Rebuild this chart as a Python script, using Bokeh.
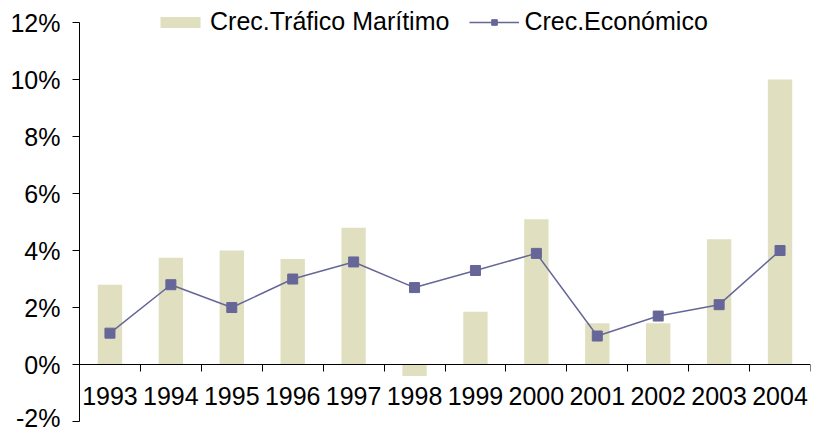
from bokeh.plotting import figure
from bokeh.models import (Range1d, LinearAxis, FixedTicker, PrintfTickFormatter,
                          Legend, LegendItem)
from bokeh.embed import file_html
from bokeh.resources import INLINE

years = ["1993", "1994", "1995", "1996", "1997", "1998",
         "1999", "2000", "2001", "2002", "2003", "2004"]
trafico = [2.8, 3.75, 4.0, 3.7, 4.8, -0.4, 1.85, 5.1, 1.45, 1.45, 4.4, 10.0]
economico = [1.1, 2.8, 2.0, 3.0, 3.6, 2.7, 3.3, 3.9, 1.0, 1.7, 2.1, 4.0]
y_ticks = [-2, 0, 2, 4, 6, 8, 10, 12]

FONT = "Liberation Sans"
FS = "25px"
BAR_COLOR = "#E0E0C0"
LINE_COLOR = "#666699"

n = len(years)
xc = [i + 0.5 for i in range(n)]

p = figure(width=813, height=431, output_backend="svg", toolbar_location=None,
           x_range=Range1d(0, n), y_range=Range1d(-2, 12.6),
           x_axis_type=None,
           min_border_left=79, min_border_right=3, min_border_top=5, min_border_bottom=10)
p.outline_line_color = None
p.ygrid.visible = False
p.background_fill_color = "white"
p.border_fill_color = "white"

bars = p.vbar(x=xc, top=trafico, bottom=0, width=0.4, fill_color=BAR_COLOR,
              line_color=None)
line = p.line(x=xc, y=economico, line_color=LINE_COLOR, line_width=1.5)
pts = p.scatter(x=xc, y=economico, marker="square", size=10,
                fill_color=LINE_COLOR, line_color=LINE_COLOR)

# y axis
yax = p.yaxis[0]
yax.ticker = FixedTicker(ticks=y_ticks)
yax.bounds = (-2, 12)
yax.formatter = PrintfTickFormatter(format="%d%%")
yax.major_tick_in = 0
yax.major_tick_out = 7
yax.minor_tick_line_color = None
yax.axis_line_color = "black"
yax.major_tick_line_color = "black"
yax.major_label_text_font = FONT
yax.major_label_text_font_size = FS
yax.major_label_text_color = "black"
yax.major_label_standoff = 12

# x axis (tick marks at category boundaries) at 0%
xb = LinearAxis(ticker=FixedTicker(ticks=list(range(n + 1))), fixed_location=0,
                major_label_overrides={i: "" for i in range(n + 1)},
                major_tick_in=0, major_tick_out=7, minor_tick_line_color=None,
                axis_line_color="black", major_tick_line_color="black")
p.add_layout(xb, "below")

# x labels (category centers)
xl = LinearAxis(ticker=FixedTicker(ticks=xc), fixed_location=0,
                major_label_overrides={c: y for c, y in zip(xc, years)},
                major_tick_in=0, major_tick_out=0, minor_tick_line_color=None,
                axis_line_color=None, major_tick_line_color=None,
                major_label_text_font=FONT, major_label_text_font_size=FS,
                major_label_text_color="black", major_label_standoff=22)
p.add_layout(xl, "below")

legend = Legend(items=[LegendItem(label="Crec.Tráfico Marítimo", renderers=[bars]),
                       LegendItem(label="Crec.Económico", renderers=[line, pts])],
                location=(76, 385), orientation="horizontal",
                background_fill_alpha=0, border_line_color=None,
                padding=0, margin=0, spacing=20, glyph_width=50, glyph_height=14,
                label_standoff=5, label_text_font=FONT, label_text_font_size=FS,
                label_text_color="black")
p.add_layout(legend)

open("out.html", "w").write(file_html(p, INLINE))
